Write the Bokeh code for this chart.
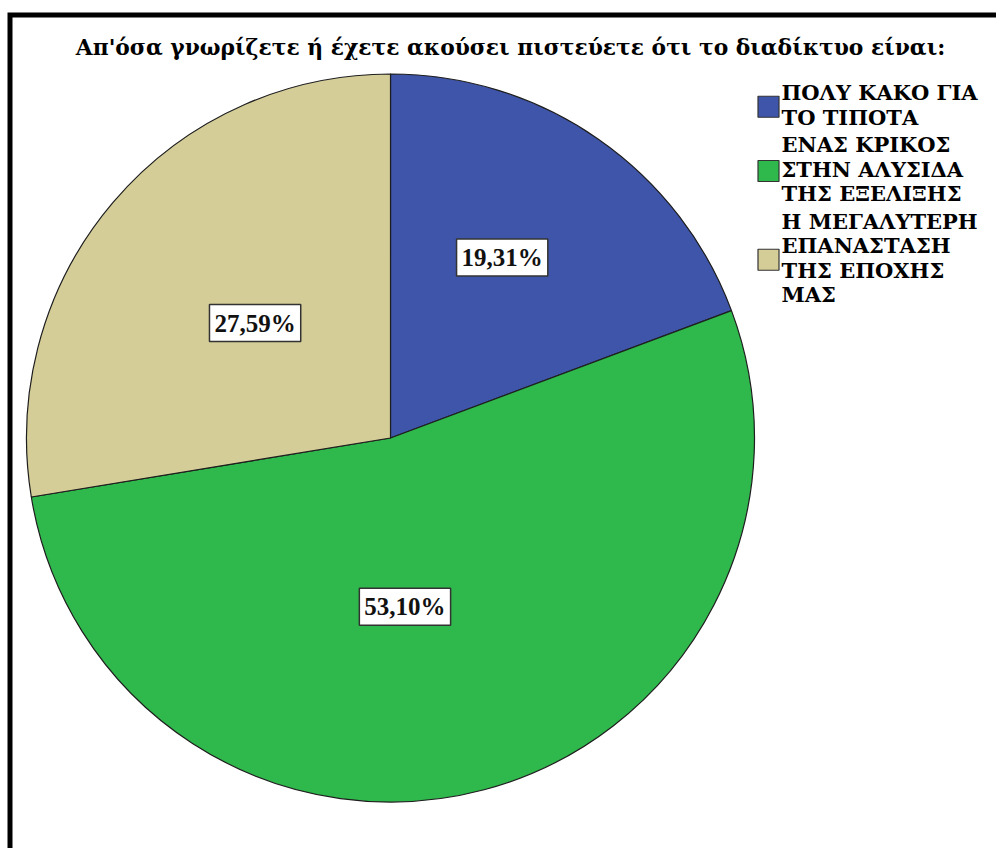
import numpy as np
from bokeh.plotting import figure
from bokeh.models import ColumnDataSource, Range1d
from bokeh.core.properties import value
from bokeh.embed import file_html
from bokeh.resources import INLINE

# ---- data ----
title = "Απ'όσα γνωρίζετε ή έχετε ακούσει πιστεύετε ότι το διαδίκτυο είναι:"
categories = ["ΠΟΛΥ ΚΑΚΟ ΓΙΑ ΤΟ ΤΙΠΟΤΑ",
              "ΕΝΑΣ ΚΡΙΚΟΣ ΣΤΗΝ ΑΛΥΣΙΔΑ ΤΗΣ ΕΞΕΛΙΞΗΣ",
              "Η ΜΕΓΑΛΥΤΕΡΗ ΕΠΑΝΑΣΤΑΣΗ ΤΗΣ ΕΠΟΧΗΣ ΜΑΣ"]
legend_lines = [["ΠΟΛΥ ΚΑΚΟ ΓΙΑ", "ΤΟ ΤΙΠΟΤΑ"],
                ["ΕΝΑΣ ΚΡΙΚΟΣ", "ΣΤΗΝ ΑΛΥΣΙΔΑ", "ΤΗΣ ΕΞΕΛΙΞΗΣ"],
                ["Η ΜΕΓΑΛΥΤΕΡΗ", "ΕΠΑΝΑΣΤΑΣΗ", "ΤΗΣ ΕΠΟΧΗΣ", "ΜΑΣ"]]
percents = [19.31, 53.10, 27.59]
colors = ["#3e55a9", "#2fb84b", "#d4cd98"]

# ---- layout (page pixel coordinates -> data) ----
W, H = 996, 848
def px(x): return x
def py(y): return H - y

cx, cy, R = px(390), py(437.5), 364
label_r = [0.583, 0.465, 0.488]
label_shift_deg = [-3, 10, 0]

vals = np.array(percents, dtype=float)
frac = vals / vals.sum()
cum = np.concatenate([[0.0], np.cumsum(frac)])
start = np.pi / 2 - cum[:-1] * 2 * np.pi
end = np.pi / 2 - cum[1:] * 2 * np.pi
mid_clock = (cum[:-1] + cum[1:]) / 2 * 360 + np.array(label_shift_deg)
lx = cx + np.array(label_r) * R * np.sin(np.radians(mid_clock))
ly = cy + np.array(label_r) * R * np.cos(np.radians(mid_clock))
labels = [f"{v:.2f}%".replace(".", ",") for v in percents]

pie_src = ColumnDataSource(dict(start=start, end=end, color=colors, cat=categories))
lab_src = ColumnDataSource(dict(x=lx, y=ly, text=labels))

p = figure(width=W, height=H, output_backend="svg", toolbar_location=None,
           x_range=Range1d(0, W), y_range=Range1d(0, H),
           x_axis_location=None, y_axis_location=None, min_border=0,
           outline_line_color=None, background_fill_color="white",
           border_fill_color="white")
p.grid.visible = False

p.wedge(x=cx, y=cy, radius=R, start_angle="start", end_angle="end",
        direction="clock", fill_color="color", line_color="#1e1e1e",
        line_width=1.2, source=pie_src)

p.text(x="x", y="y", text="text", source=lab_src,
       text_align="center", text_baseline="middle",
       text_font=value("Liberation Serif"), text_font_style="bold",
       text_font_size="25px", text_color="#111111",
       background_fill_color="white", border_line_color="#333333",
       border_line_width=1.5, padding=5)

# title
p.text(x=[px(510)], y=[py(47)], text=[title], text_align="center",
       text_baseline="middle", text_font=value("DejaVu Serif"),
       text_font_style="bold", text_font_size="21.8px", text_color="black")

# legend (one text item per line)
line_sp = 24.5
gap = 3
first_mid = 92
lt_x, lt_y, lt_text = [], [], []
sq_y = []
acc = 0
for i, lines in enumerate(legend_lines):
    ys = [first_mid + (acc + k) * line_sp + i * gap for k in range(len(lines))]
    for k, line in enumerate(lines):
        lt_x.append(px(781))
        lt_y.append(py(ys[k]))
        lt_text.append(line)
    sq_y.append(py((ys[0] + ys[-1]) / 2 + 2))
    acc += len(lines)

sq_src = ColumnDataSource(dict(x=[px(768)] * 3, y=sq_y, color=colors, cat=categories))
p.rect(x="x", y="y", width=21, height=21, fill_color="color",
       line_color="#333333", line_width=1.2, source=sq_src)
lt_src = ColumnDataSource(dict(x=lt_x, y=lt_y, text=lt_text))
p.text(x="x", y="y", text="text", source=lt_src, text_align="left",
       text_baseline="middle", text_font=value("DejaVu Serif"),
       text_font_style="bold", text_font_size="21px", text_color="black")

# frame (top and left edges visible)
p.line(x=[px(9.5), px(9.5), W], y=[0, py(14.5), py(14.5)],
       line_color="black", line_width=5, line_join="miter")

open("out.html", "w").write(file_html(p, INLINE))
